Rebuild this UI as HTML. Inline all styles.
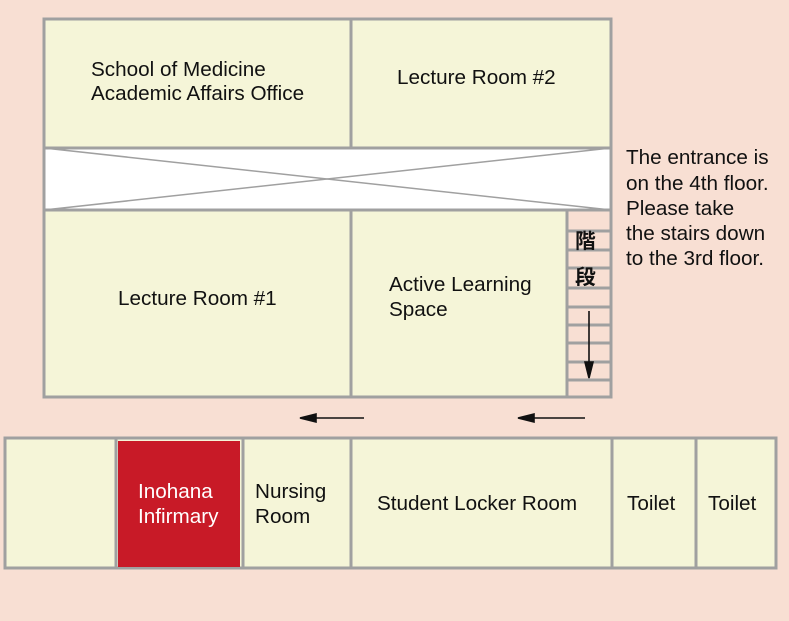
<!DOCTYPE html><html><head><style>body{margin:0;background:#f8dfd3}svg{display:block}text{font-family:"Liberation Sans","Noto Sans CJK JP",sans-serif;font-size:20.7px;fill:#111}</style></head><body>
<svg width="789" height="621" viewBox="0 0 789 621">
<rect width="789" height="621" fill="#f8dfd3"/>
<g stroke="#a0a0a0" stroke-width="3">
<rect x="44" y="19" width="307" height="129" fill="#f5f5d8"/>
<rect x="351" y="19" width="260" height="129" fill="#f5f5d8"/>
<rect x="44" y="148" width="567" height="62" fill="#fff"/>
<line x1="44" y1="148" x2="611" y2="210" stroke-width="1.5"/>
<line x1="44" y1="210" x2="611" y2="148" stroke-width="1.5"/>
<rect x="44" y="210" width="307" height="187" fill="#f5f5d8"/>
<rect x="351" y="210" width="216" height="187" fill="#f5f5d8"/>
<rect x="567" y="210" width="44" height="187" fill="#f8dfd3"/>
<path d="M568 231H611M568 250H611M568 268H611M568 288H611M568 307H611M568 325H611M568 343H611M568 362H611M568 380H611"/>
<rect x="5" y="438" width="771" height="130" fill="#f5f5d8"/>
<path d="M116 438V568M243 438V568M351 438V568M612 438V568M696 438V568"/>
</g>
<rect x="118" y="441" width="122" height="126" fill="#c81a27"/>
<g stroke="#111" stroke-width="1.6" fill="#111">
<line x1="589" y1="311" x2="589" y2="372"/><path d="M585 362L589 378L593 362Z"/>
<line x1="306" y1="418" x2="364" y2="418"/><path d="M316 414L300 418L316 422Z"/>
<line x1="524" y1="418" x2="585" y2="418"/><path d="M534 414L518 418L534 422Z"/>
</g>
<text x="91" y="76">School of Medicine</text>
<text x="91" y="100">Academic Affairs Office</text>
<text x="397" y="84">Lecture Room #2</text>
<text x="118" y="305">Lecture Room #1</text>
<text x="389" y="291">Active Learning</text>
<text x="389" y="316">Space</text>
<text x="575" y="248" font-size="25" font-weight="bold">階</text>
<text x="575" y="284" font-size="25" font-weight="bold">段</text>
<text x="626" y="164">The entrance is</text>
<text x="626" y="190">on the 4th floor.</text>
<text x="626" y="215">Please take</text>
<text x="626" y="240">the stairs down</text>
<text x="626" y="265">to the 3rd floor.</text>
<text x="138" y="498" style="fill:#fff">Inohana</text>
<text x="138" y="523" style="fill:#fff">Infirmary</text>
<text x="255" y="498">Nursing</text>
<text x="255" y="523">Room</text>
<text x="377" y="510">Student Locker Room</text>
<text x="627" y="510">Toilet</text>
<text x="708" y="510">Toilet</text>
</svg></body></html>
